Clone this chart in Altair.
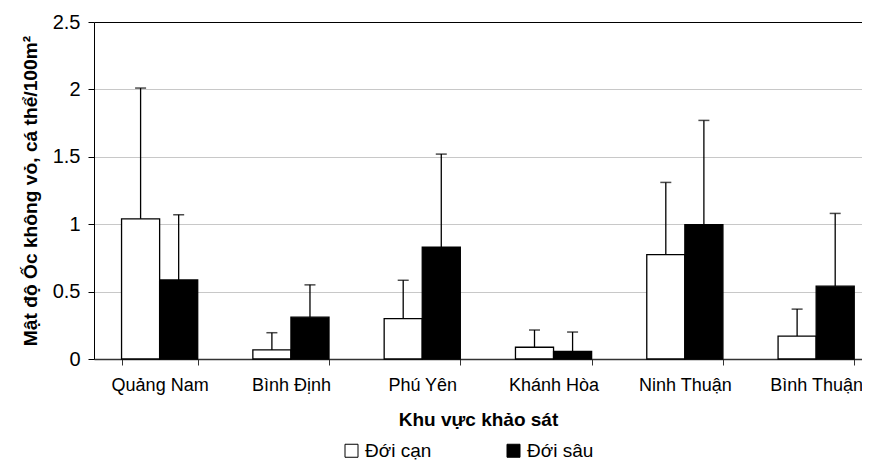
import altair as alt
import pandas as pd

sites = ["Quảng Nam", "Bình Định", "Phú Yên", "Khánh Hòa", "Ninh Thuận", "Bình Thuận"]
series = ["Đới cạn", "Đới sâu"]
can_mean = [1.04, 0.067, 0.30, 0.087, 0.774, 0.17]
can_sd = [0.97, 0.128, 0.284, 0.128, 0.536, 0.20]
sau_mean = [0.586, 0.31, 0.83, 0.057, 0.996, 0.54]
sau_sd = [0.484, 0.24, 0.69, 0.143, 0.774, 0.54]
y_ticks = [0, 0.5, 1, 1.5, 2, 2.5]

rows = []
for i, s in enumerate(sites):
    rows.append({"site": s, "series": series[0], "value": can_mean[i], "upper": can_mean[i] + can_sd[i]})
    rows.append({"site": s, "series": series[1], "value": sau_mean[i], "upper": sau_mean[i] + sau_sd[i]})
df = pd.DataFrame(rows)

FONT = "Liberation Sans"

x_enc = alt.X(
    "site:N",
    sort=sites,
    scale=alt.Scale(paddingInner=0.42, paddingOuter=0.1345, align=0.78),
    axis=alt.Axis(
        title="Khu vực khảo sát",
        tickBand="extent",
        labelAngle=0,
        labelFontSize=18,
        labelColor="black",
        labelPadding=11,
        tickSize=6,
        tickColor="#333333",
        domainColor="#333333",
        domainWidth=1.5,
        titleFontSize=19,
        titleFontWeight="bold",
        titleColor="black",
        titlePadding=16,
        grid=False,
    ),
)
xoff = alt.XOffset("series:N", sort=series, scale=alt.Scale(paddingInner=0, paddingOuter=0))

y_axis = alt.Axis(
    title="Mật độ Ốc không vỏ, cá thể/100m²",
    values=y_ticks,
    format=".1~f",
    labelFontSize=20,
    labelColor="black",
    labelPadding=8,
    tickSize=6,
    tickColor="black",
    domainColor="black",
    gridColor={"condition": {"test": "datum.value >= 2.5", "value": "black"}, "value": "#c8c8c8"},
    titleFontSize=19.2,
    titleFontWeight="bold",
    titleColor="black",
    titlePadding=12,
)

bars = alt.Chart(df).mark_bar(stroke="black", strokeWidth=1.3).encode(
    x=x_enc,
    xOffset=xoff,
    y=alt.Y("value:Q", scale=alt.Scale(domain=[0, 2.5], nice=False), axis=y_axis),
    fill=alt.Fill(
        "series:N",
        scale=alt.Scale(domain=series, range=["white", "black"]),
        legend=alt.Legend(
            orient="none",
            legendX=248,
            legendY=419,
            direction="horizontal",
            title=None,
            symbolType="square",
            symbolSize=169,
            symbolStrokeColor="black",
            symbolStrokeWidth=1,
            labelFontSize=19,
            labelColor="black",
            labelOffset=4,
            columnPadding=72,
            padding=0,
        ),
    ),
)

rules = alt.Chart(df).mark_rule(color="black", strokeWidth=1.3).encode(
    x=alt.X("site:N", sort=sites),
    xOffset=xoff,
    y="value:Q",
    y2="upper:Q",
)

caps = alt.Chart(df).mark_tick(color="black", thickness=1.5, size=11).encode(
    x=alt.X("site:N", sort=sites),
    xOffset=xoff,
    y="upper:Q",
)

chart = (
    alt.layer(bars, rules, caps)
    .properties(
        width=768,
        height=337,
        autosize=alt.AutoSizeParams(type="none"),
        padding={"left": 86, "top": 14, "right": 0, "bottom": 104},
    )
    .configure(font=FONT)
    .configure_view(stroke=None)
)

chart.save("out.html", embed_options={"renderer": "svg", "actions": False})
